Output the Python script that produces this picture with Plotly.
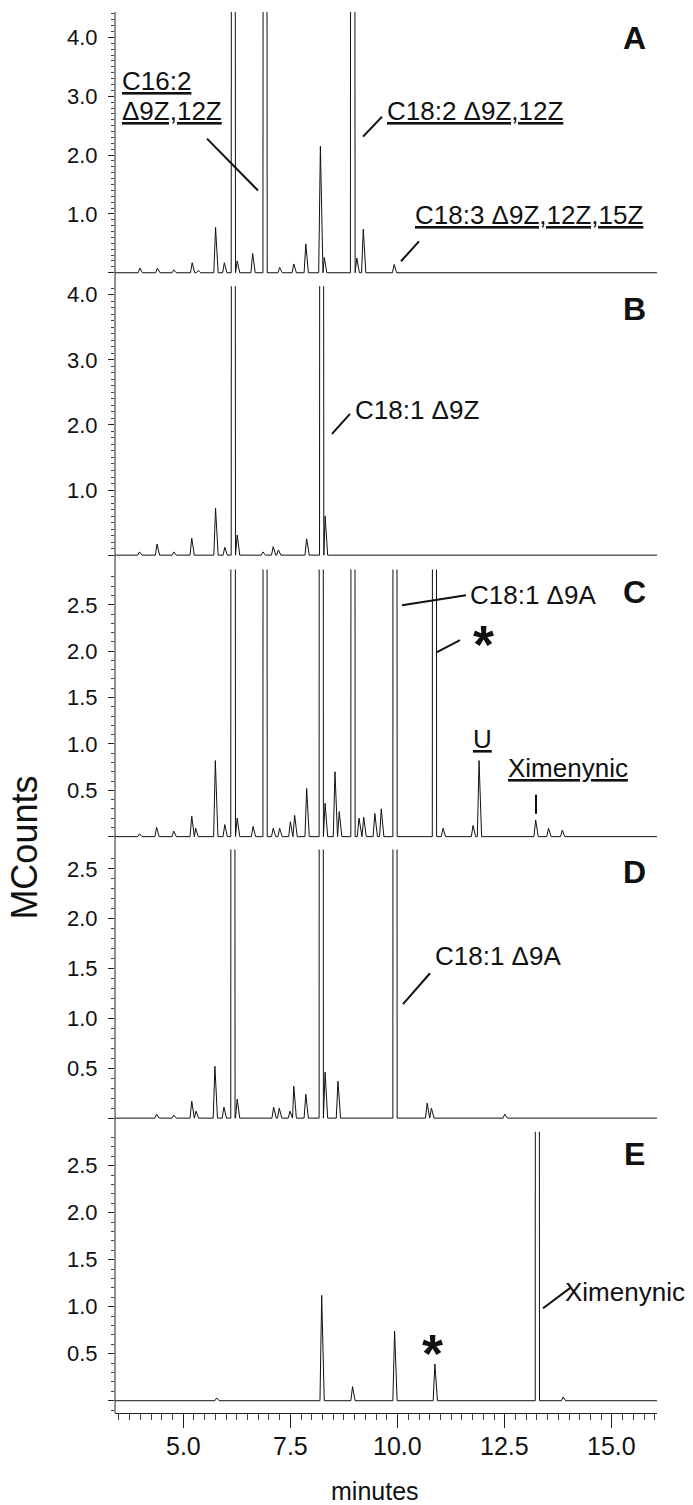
import plotly.graph_objects as go

# GC traces A-E: retention time (minutes) and apex height (MCounts) of each peak.
# OFF marks peaks that run off the top of their panel.
OFF = 60

a_time = [3.99, 4.40, 4.78, 5.21, 5.35, 5.755, 5.96, 6.16, 6.26, 6.62, 6.90, 7.25, 7.58, 7.86,
          8.20, 8.29, 8.94, 9.05, 9.20, 9.92]
a_height = [0.08, 0.08, 0.05, 0.17, 0.04, 0.77, 0.17, OFF, 0.20, 0.33, OFF, 0.09, 0.15, 0.49,
            2.15, 0.26, OFF, 0.25, 0.74, 0.14]

b_time = [3.98, 4.39, 4.78, 5.20, 5.755, 5.97, 6.16, 6.26, 6.86, 7.10, 7.22, 7.88, 8.22, 8.31]
b_height = [0.05, 0.17, 0.05, 0.26, 0.72, 0.12, OFF, 0.31, 0.05, 0.13, 0.08, 0.25, OFF, 0.60]

c_time = [3.98, 4.38, 4.78, 5.20, 5.29, 5.75, 5.97, 6.15, 6.26, 6.63, 6.90, 7.10, 7.25, 7.50,
          7.60, 7.88, 8.21, 8.31, 8.54, 8.64, 8.95, 9.10, 9.21, 9.47, 9.62, 9.93, 10.85, 11.06,
          11.76, 11.90, 13.22, 13.52, 13.84]
c_height = [0.03, 0.10, 0.06, 0.22, 0.09, 0.82, 0.13, OFF, 0.20, 0.11, OFF, 0.09, 0.09, 0.16,
            0.23, 0.52, OFF, 0.36, 0.70, 0.27, OFF, 0.20, 0.21, 0.25, 0.30, OFF, OFF, 0.09,
            0.12, 0.82, 0.18, 0.09, 0.07]

d_time = [4.38, 4.78, 5.20, 5.30, 5.74, 5.95, 6.15, 6.26, 7.11, 7.24, 7.49, 7.58, 7.86, 8.21,
          8.31, 8.61, 9.93, 10.69, 10.79, 12.50]
d_height = [0.04, 0.03, 0.17, 0.07, 0.52, 0.11, OFF, 0.19, 0.11, 0.10, 0.07, 0.32, 0.24, OFF,
            0.46, 0.37, OFF, 0.15, 0.10, 0.04]

e_time = [5.78, 8.23, 8.95, 9.93, 10.87, 13.25, 13.86]
e_height = [0.03, 1.12, 0.15, 0.74, 0.39, OFF, 0.04]

panel_names = ['A', 'B', 'C', 'D', 'E']
y_ticks_big = [0, 1, 2, 3, 4]
y_ticks_small = [0, 0.5, 1.0, 1.5, 2.0, 2.5]
x_ticks = [5.0, 7.5, 10.0, 12.5, 15.0]

X_MIN, X_MAX = 3.41, 16.05

# ---- layout, all positions below are page pixels (the html body adds an 8px margin)
PAGE = 8
W, H = 693 - PAGE, 1505 - PAGE
PLOT_L, PLOT_R = 115, 657          # page x of plot area edges
PLOT_T, PLOT_B = PAGE, 1413        # page y of plot area edges
PW, PH = PLOT_R - PLOT_L, PLOT_B - PLOT_T


def px(x, y):
    return (x - PLOT_L) / PW, (PLOT_B - y) / PH


def peaks_to_line(times, heights):
    xs, ys = [X_MIN], [0]
    for t, h in zip(times, heights):
        start = max(t - 0.04, xs[-1])
        xs += [start, t, t + 0.06]
        ys += [0, h, 0]
    xs.append(X_MAX)
    ys.append(0)
    return xs, ys


# panel top (clip), bottom, baseline in page px and px per MCount
panel_px = [(PAGE, 274, 269.5, 59), (283, 557, 552.7, 65.3), (567, 838, 835, 93),
            (848, 1120, 1117.3, 100), (1131, 1413, 1400.7, 94.3)]

FONT = 'Arial, Liberation Sans, sans-serif'

fig = go.Figure()
data = [(a_time, a_height), (b_time, b_height), (c_time, c_height),
        (d_time, d_height), (e_time, e_height)]
for i, (t, h) in enumerate(data):
    xs, ys = peaks_to_line(t, h)
    fig.add_trace(go.Scatter(x=xs, y=ys, mode='lines', xaxis='x',
                             yaxis='y' if i == 0 else 'y%d' % (i + 1),
                             line=dict(color='#111111', width=1), hoverinfo='skip'))

layout = {}
for i, (top, bot, base, ppu) in enumerate(panel_px):
    ticks = y_ticks_big if i < 2 else y_ticks_small
    layout['yaxis' if i == 0 else 'yaxis%d' % (i + 1)] = dict(
        domain=[(PLOT_B - bot) / PH, (PLOT_B - top) / PH],
        range=[(base - bot) / ppu, (base - top) / ppu],
        anchor='x', showline=False, showgrid=False, zeroline=False,
        tickmode='array', tickvals=ticks,
        ticktext=[''] + ['%.1f' % v for v in ticks[1:]],
        ticks='outside', ticklen=6, tickwidth=1, tickcolor='#222',
        ticklabelstandoff=6,
        tickfont=dict(family=FONT, size=22, color='#111'),
        minor=dict(dtick=0.1, tick0=0, ticks='outside', ticklen=3, tickwidth=1, tickcolor='#444'),
    )

# time axis: short ticks every 0.25 min; labels are drawn as annotations below
layout['xaxis'] = dict(
    domain=[0, 1], range=[X_MIN, X_MAX], anchor='y5',
    showline=True, linecolor='#222', linewidth=1, showgrid=False, zeroline=False,
    tickmode='array', tickvals=x_ticks, showticklabels=False,
    ticks='outside', ticklen=14, tickwidth=1, tickcolor='#222',
    minor=dict(dtick=0.25, tick0=0, ticks='outside', ticklen=6, tickwidth=1, tickcolor='#444'),
)
# long ticks at both ends of the time axis
layout['xaxis2'] = dict(
    domain=[0, 1], range=[X_MIN, X_MAX], anchor='y5', overlaying='x',
    showline=False, showgrid=False, zeroline=False, showticklabels=False,
    tickmode='array', tickvals=[X_MIN, X_MAX],
    ticks='outside', ticklen=14, tickwidth=1, tickcolor='#222',
)

fig.update_layout(**layout)

ann = []
# time tick labels, placed on the x scale
for v in x_ticks:
    ann.append(dict(text='%.1f' % v, x=v, xref='x', y=px(0, 1446)[1], yref='paper',
                    xanchor='center', yanchor='middle', showarrow=False,
                    font=dict(family=FONT, size=25, color='#111')))

# annotations: (text, x px, y px, xanchor, size)
labels = [
    ('<u>C16:2</u>', 120, 77, 'left', 26),
    ('<u>Δ9Z,12Z</u>', 120, 107, 'left', 26),
    ('<u>C18:2 Δ9Z,12Z</u>', 385, 107, 'left', 26),
    ('<u>C18:3 Δ9Z,12Z,15Z</u>', 413, 212, 'left', 26),
    ('C18:1 Δ9Z', 353, 407, 'left', 26),
    ('C18:1 Δ9A', 468, 593, 'left', 26),
    ('<u>U</u>', 482, 737, 'center', 26),
    ('<u>Ximenynic</u>', 506, 766, 'left', 26),
    ('C18:1 Δ9A', 433, 955, 'left', 26),
    ('Ximenynic', 563, 1292, 'left', 26),
]
for text, x, y, xa, size in labels:
    ax, ay = px(x, y)
    ann.append(dict(text=text, x=ax, y=ay, xref='paper', yref='paper', xanchor=xa,
                    yanchor='middle', showarrow=False,
                    font=dict(family=FONT, size=size, color='#111')))

letter_y = [34, 306, 590, 870, 1153]
for name, y in zip(panel_names, letter_y):
    ax, ay = px(634, y)
    ann.append(dict(text='<b>%s</b>' % name, x=ax, y=ay, xref='paper', yref='paper',
                    xanchor='center', yanchor='middle', showarrow=False,
                    font=dict(family=FONT, size=32, color='#111')))

for x, y in [(483, 642), (432, 1353)]:
    ax, ay = px(x, y)
    ann.append(dict(text='<b>*</b>', x=ax, y=ay, xref='paper', yref='paper',
                    xanchor='center', yanchor='middle', showarrow=False,
                    font=dict(family=FONT, size=54, color='#111')))

ax, ay = px(375, 1491)
ann.append(dict(text='minutes', x=ax, y=ay, xref='paper', yref='paper', xanchor='center',
                yanchor='middle', showarrow=False, font=dict(family=FONT, size=25, color='#111')))
ax, ay = px(25, 846)
ann.append(dict(text='MCounts', x=ax, y=ay, xref='paper', yref='paper', xanchor='center',
                yanchor='middle', textangle=-90, showarrow=False,
                font=dict(family=FONT, size=36, color='#111')))

# leader lines from labels to peaks (page pixels)
leaders = [
    (207, 135, 258, 187), (363, 133, 382, 113), (401, 258, 419, 238),
    (332, 431, 350, 411),
    (402, 603, 466, 593), (437, 650, 460, 638), (536, 793, 536, 812),
    (403, 1003, 430, 972),
    (543, 1308, 571, 1287),
]
shapes = [dict(type='line', xref='paper', yref='paper', x0=0, x1=0, y0=0, y1=1,
               line=dict(color='#222', width=1))]
for x0, y0, x1, y1 in leaders:
    p0, p1 = px(x0, y0), px(x1, y1)
    shapes.append(dict(type='line', xref='paper', yref='paper', x0=p0[0], y0=p0[1],
                       x1=p1[0], y1=p1[1], line=dict(color='#111', width=2)))

fig.update_layout(width=W, height=H,
                  margin=dict(l=PLOT_L - PAGE, r=W - (PLOT_R - PAGE), t=0, b=H - (PLOT_B - PAGE)),
                  plot_bgcolor='white', paper_bgcolor='white', showlegend=False,
                  annotations=ann, shapes=shapes)

fig.write_html("out.html")
